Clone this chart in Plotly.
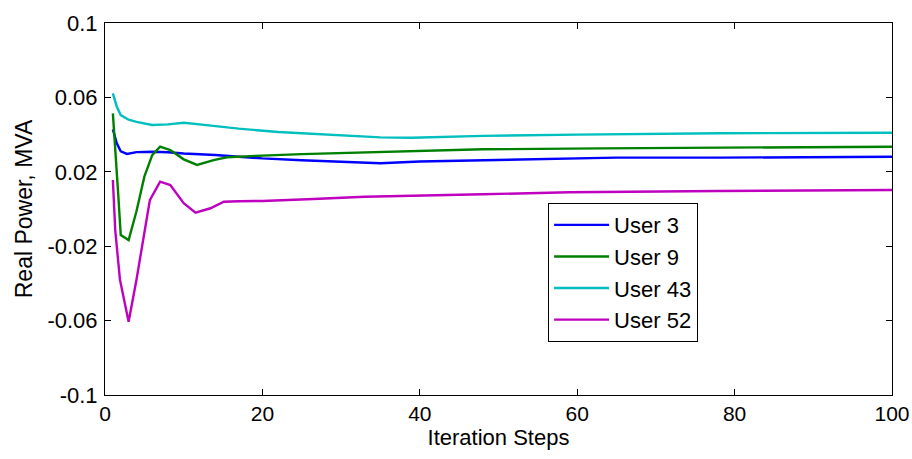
import plotly.graph_objects as go

# ---- data ----
user3_x = [1, 1.5, 2, 2.8, 4, 6, 8, 10, 14, 20, 25, 30, 35, 40, 48, 55, 65, 78, 90, 100]
user3_y = [0.0428, 0.0353, 0.0310, 0.0296, 0.0306, 0.0308, 0.0305, 0.0298, 0.0290, 0.0272,
           0.0262, 0.0252, 0.0246, 0.0255, 0.0262, 0.0267, 0.0276, 0.0276, 0.0277, 0.0281]

user9_x = [1, 1.3, 1.7, 2, 3, 4, 5, 6, 7, 8.3, 10, 11.7, 13.8, 15.5, 17, 20, 25, 33, 48, 63, 78, 100]
user9_y = [0.0514, 0.0335, 0.0066, -0.0140, -0.0167, -0.0012, 0.0174, 0.0290, 0.0335, 0.0317,
           0.0267, 0.0237, 0.0263, 0.0278, 0.0282, 0.0287, 0.0295, 0.0305, 0.0321, 0.0326, 0.0330, 0.0335]

user43_x = [1, 1.5, 2, 3, 4, 6, 8, 10, 12, 14, 17, 22, 29, 35, 39, 48, 60, 78, 100]
user43_y = [0.0622, 0.0550, 0.0505, 0.0480, 0.0468, 0.0452, 0.0455, 0.0464, 0.0455, 0.0445,
            0.0432, 0.0414, 0.0398, 0.0385, 0.0383, 0.0393, 0.0400, 0.0407, 0.0410]

user52_x = [1, 1.3, 1.9, 3, 4, 4.9, 5.7, 7, 8.3, 10, 11.5, 13.4, 15.1, 17, 20, 26.5, 33, 48, 59, 78, 100]
user52_y = [0.0156, -0.0113, -0.0380, -0.0606, -0.0380, -0.0149, 0.0048, 0.0147, 0.0129, 0.0031,
            -0.0020, 0.0004, 0.0039, 0.0042, 0.0043, 0.0054, 0.0066, 0.0079, 0.0090, 0.0097, 0.0102]

series_names = ["User 3", "User 9", "User 43", "User 52"]
series_colors = ["#0000ff", "#008000", "#00bfbf", "#bf00bf"]

x_ticks = [0, 20, 40, 60, 80, 100]
y_ticks = [0.1, 0.06, 0.02, -0.02, -0.06, -0.1]
y_tick_labels = ["0.1", "0.06", "0.02", "-0.02", "-0.06", "-0.1"]

series = [(user3_x, user3_y), (user9_x, user9_y), (user43_x, user43_y), (user52_x, user52_y)]

fig = go.Figure()
for (xs, ys), name, col in zip(series, series_names, series_colors):
    fig.add_trace(go.Scatter(x=xs, y=ys, mode="lines", name=name,
                             line=dict(color=col, width=2.4)))

font_main = "Liberation Sans, Arial, Helvetica, sans-serif"

fig.update_layout(
    width=912, height=459,
    margin=dict(l=105, r=20, t=23, b=64),
    paper_bgcolor="white", plot_bgcolor="white",
    showlegend=True,
    legend=dict(x=0.563, y=0.516, xanchor="left", yanchor="top",
                bgcolor="white", bordercolor="black", borderwidth=1,
                itemwidth=55,
                font=dict(family=font_main, size=22, color="black")),
    font=dict(family=font_main, size=21, color="black"),
)
fig.update_xaxes(range=[0, 100], tickvals=x_ticks, showgrid=False, zeroline=False,
                 showline=True, linecolor="black", linewidth=1, mirror="ticks",
                 ticks="inside", ticklen=6, tickcolor="black", automargin=False,
                 tickfont=dict(family=font_main, size=21),
                 title=dict(text="Iteration Steps", font=dict(family=font_main, size=22), standoff=4))
fig.update_yaxes(range=[-0.1, 0.1], tickvals=y_ticks, ticktext=y_tick_labels, showgrid=False,
                 zeroline=False, showline=True, linecolor="black", linewidth=1, mirror="ticks",
                 ticks="inside", ticklen=6, tickcolor="black", automargin=False,
                 ticklabelstandoff=2,
                 tickfont=dict(family=font_main, size=22),
                 title=dict(text="Real Power, MVA", font=dict(family=font_main, size=23), standoff=8))

fig.write_html("out.html")
